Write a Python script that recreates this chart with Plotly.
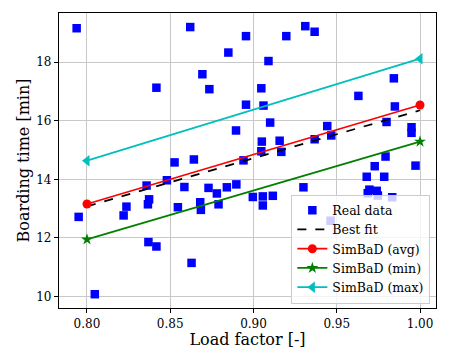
import plotly.graph_objects as go

load_factor = [
    0.7938, 0.795, 0.8047, 0.8417, 0.822, 0.8237, 0.8358, 0.8373, 0.8366, 0.8369,
    0.8417, 0.848, 0.8526, 0.8546, 0.8585, 0.862, 0.8628, 0.8642, 0.868, 0.8684,
    0.8693, 0.873, 0.8735, 0.878, 0.879, 0.884, 0.8849, 0.8895, 0.8897, 0.894,
    0.8955, 0.8955, 0.8996, 0.9047, 0.905, 0.9047, 0.9056, 0.9056, 0.906, 0.909,
    0.910, 0.9116, 0.9157, 0.9167, 0.9197, 0.930, 0.9311, 0.9367, 0.9367, 0.9443,
    0.9463, 0.9467, 0.963, 0.968, 0.9686, 0.9696, 0.9728, 0.974, 0.9747, 0.9785,
    0.9793, 0.9799, 0.9833, 0.9843, 0.9849, 0.9949, 0.9949, 0.9973,
]
boarding_time = [
    19.16, 12.72, 10.08, 17.13, 12.77, 13.07, 13.79, 13.32, 13.15, 11.86,
    11.71, 13.97, 14.58, 13.05, 13.74, 19.20, 11.15, 14.68, 13.22, 12.96,
    17.59, 13.71, 17.08, 13.52, 13.15, 13.73, 18.33, 15.67, 13.83, 14.65,
    18.89, 16.55, 13.40, 17.11, 15.29, 14.96, 13.42, 13.11, 16.52, 18.04,
    15.94, 13.44, 15.32, 14.94, 18.89, 13.73, 19.23, 19.04, 15.37, 15.82,
    12.59, 15.50, 16.85, 14.09, 13.53, 13.65, 14.45, 13.61, 13.45, 14.09,
    14.78, 15.96, 13.39, 17.45, 16.49, 15.78, 15.59, 14.47,
]

sim_lf = [0.80, 1.00]
fit_time = [13.08, 16.36]
sim_avg = [13.16, 16.54]
sim_min = [11.95, 15.29]
sim_max = [14.64, 18.12]

font = "DejaVu Serif"

fig = go.Figure()
fig.add_trace(go.Scatter(
    x=load_factor, y=boarding_time, mode="markers", name="Real data",
    marker=dict(symbol="square", size=8.5, color="#0000ff"),
))
fig.add_trace(go.Scatter(
    x=sim_lf, y=fit_time, mode="lines", name="Best fit",
    line=dict(color="black", dash="dash", width=1.8),
))
fig.add_trace(go.Scatter(
    x=sim_lf, y=sim_avg, mode="lines+markers", name="SimBaD (avg)",
    line=dict(color="#ff0000", width=1.8),
    marker=dict(symbol="circle", size=9, color="#ff0000"),
))
fig.add_trace(go.Scatter(
    x=sim_lf, y=sim_min, mode="lines+markers", name="SimBaD (min)",
    line=dict(color="green", width=1.8),
    marker=dict(symbol="star", size=9, color="green"),
))
fig.add_trace(go.Scatter(
    x=sim_lf, y=sim_max, mode="lines+markers", name="SimBaD (max)",
    line=dict(color="#00bfbf", width=1.8),
    marker=dict(symbol="triangle-left", size=10, color="#00bfbf"),
))

axis_style = dict(
    showline=True, mirror=True, linecolor="black", linewidth=1.2,
    showgrid=True, gridcolor="#c8c8c8", gridwidth=1,
    ticks="outside", ticklen=4, tickcolor="black",
    tickfont=dict(family=font, size=12, color="black"),
    zeroline=False, automargin=False,
)

fig.update_xaxes(
    range=[0.7832, 1.0096], tickvals=[0.80, 0.85, 0.90, 0.95, 1.00],
    tickformat=".2f",
    title=dict(text="Load factor [-]", font=dict(family=font, size=16, color="black"), standoff=0),
    **axis_style,
)
fig.update_yaxes(
    range=[9.61, 19.68], tickvals=[10, 12, 14, 16, 18],
    title=dict(text="Boarding time [min]", font=dict(family=font, size=16, color="black"), standoff=2),
    **axis_style,
)

# the page body adds an 8px offset, so the figure is 8px smaller on each axis
fig.update_layout(
    width=442, height=348,
    margin=dict(l=51, r=14, t=5, b=48),
    plot_bgcolor="white", paper_bgcolor="white",
    font=dict(family=font, color="black"),
    legend=dict(
        x=0.985, y=0.015, xanchor="right", yanchor="bottom",
        bgcolor="rgba(255,255,255,0.8)", bordercolor="#cccccc", borderwidth=1,
        font=dict(family=font, size=12.5, color="black"),
        itemwidth=30, tracegroupgap=0,
    ),
)

fig.write_html("out.html")
